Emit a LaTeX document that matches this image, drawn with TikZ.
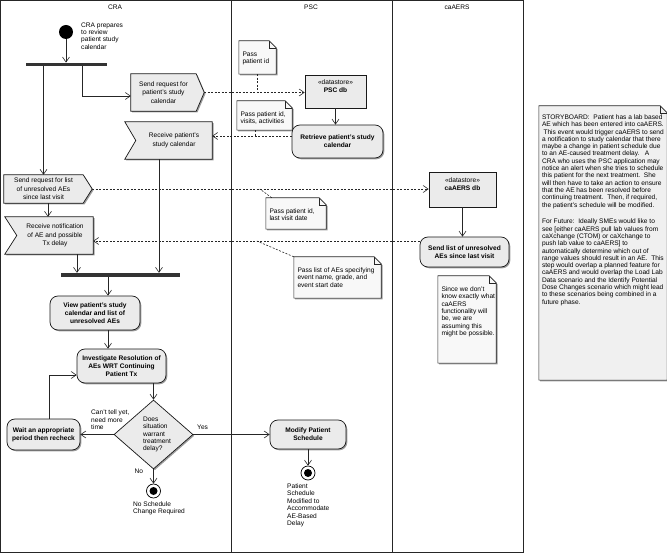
\documentclass[tikz,border=0pt]{standalone}
\usepackage{fontspec}
\setmainfont{Liberation Sans}
\usetikzlibrary{arrows.meta,shapes.geometric,shadows}
\pgfdeclarelayer{back}
\pgfsetlayers{back,main}
\definecolor{nodefill}{HTML}{EBEBEB}
\definecolor{notefill}{HTML}{F8F8F8}
\definecolor{sbfill}{HTML}{F0F0F0}
\tikzset{
 shd/.style={drop shadow={shadow xshift=1.3pt, shadow yshift=-1.3pt, opacity=0.55, fill=black!70}},
 lane/.style={draw=black!85, line width=0.8pt},
 ttl/.style={font=\fontsize{6.6}{7.4}\selectfont, inner sep=0pt},
 lbl/.style={font=\fontsize{6.6}{7.4}\selectfont, inner sep=0pt, align=left},
 act/.style={draw=black!90, line width=0.7pt, fill=nodefill, rounded corners=8pt, align=center, font=\bfseries\fontsize{6.6}{8.1}\selectfont, inner sep=0pt, shd},
 store/.style={draw=black!90, line width=0.7pt, fill=nodefill, inner sep=0pt, shd},
 sigtxt/.style={align=center, font=\fontsize{6.6}{8.5}\selectfont, inner sep=0pt},
 sigsh/.style={draw=black!90, line width=0.7pt, fill=nodefill, shd},
 notesh/.style={draw=black!85, line width=0.6pt, shd},
 bar/.style={fill=black!80, draw=none, inner sep=0pt},
 arr/.style={draw=black!85, line width=0.6pt, -{Straight Barb[length=5pt,width=7pt]}},
 dsh/.style={draw=black!85, line width=0.6pt, dash pattern=on 2pt off 1.5pt},
 darr/.style={dsh, -{Straight Barb[length=5pt,width=7pt]}},
 finalnode/.style={circle, draw=black, line width=0.7pt, fill=white, minimum size=14pt, inner sep=0pt,
   path picture={\fill[black] (path picture bounding box.center) circle (4pt);}},
}
% name, cx, cy, w, h, fill, text style, text
\newcommand\mknote[8]{%
 \node[minimum width=#4pt, minimum height=#5pt, inner sep=0pt] (#1) at (#2,#3) {};
 \begin{pgfonlayer}{back}
 \filldraw[notesh, fill=#6] (#1.north west) -- ([xshift=-7pt]#1.north east) -- ([yshift=-7pt]#1.north east) -- (#1.south east) -- (#1.south west) -- cycle;
 \draw[line width=0.5pt, draw=black!85] ([xshift=-7pt]#1.north east) |- ([yshift=-7pt]#1.north east);
 \end{pgfonlayer}
 \node[lbl, anchor=north west, #7] (#1t) at ([xshift=3.5pt,yshift=-10.5pt]#1.north west) {#8};
}
\begin{document}
\begin{tikzpicture}[x=1pt,y=-1pt]
\useasboundingbox (0,0) rectangle (667,553);
% lanes
\draw[lane] (0.5,0.5) rectangle (523,552.5);
\draw[lane] (231,0.5) -- (231,552.5);
\draw[lane] (392,0.5) -- (392,552.5);
\node[ttl] (tcra) at (115,7.5) {CRA};
\node[ttl] (tpsc) at (311,7.5) {PSC};
\node[ttl] (tcaers) at (457,7.5) {caAERS};

% CRA lane nodes
\node[circle, fill=black, minimum size=14pt, inner sep=0pt] (start) at (66,32) {};
\node[lbl, anchor=west] (startl) at (81,36) {CRA prepares\\to review\\patient study\\calendar};
\node[bar, minimum width=81pt, minimum height=3.5pt] (fork1) at (66.5,64.5) {};

\node[sigtxt, minimum width=65pt, minimum height=37pt] (send1) at (163.5,92.5) {Send request for\\patient's study\\calendar};
\node[sigtxt, minimum width=76pt, minimum height=37pt] (recv1) at (174,140.5) {Receive patient's\\study calendar};
\node[sigtxt, minimum width=79pt, minimum height=28pt] (send2) at (43.5,189) {Send request for list\\of unresolved AEs\\since last visit};
\node[sigtxt, minimum width=76pt, minimum height=37pt] (recv2) at (55,235.5) {Receive notification\\of AE and possible\\Tx delay};
\begin{pgfonlayer}{back}
\filldraw[sigsh] (send1.north west) -- (send1.north east) -- ([xshift=8pt]send1.east) -- (send1.south east) -- (send1.south west) -- cycle;
\filldraw[sigsh] ([xshift=-11pt]recv1.north west) -- (recv1.north east) -- (recv1.south east) -- ([xshift=-11pt]recv1.south west) -- (recv1.west) -- cycle;
\filldraw[sigsh] (send2.north west) -- (send2.north east) -- ([xshift=9pt]send2.east) -- (send2.south east) -- (send2.south west) -- cycle;
\filldraw[sigsh] ([xshift=-12pt]recv2.north west) -- (recv2.north east) -- (recv2.south east) -- ([xshift=-12pt]recv2.south west) -- (recv2.west) -- cycle;
\end{pgfonlayer}

\node[bar, minimum width=119pt, minimum height=4pt] (fork2) at (120.5,275) {};
\node[act, minimum width=90pt, minimum height=34pt] (view) at (95,313) {View patient's study\\calendar and list of\\unresolved AEs};
\node[act, minimum width=89pt, minimum height=34pt] (inv) at (121.5,366) {Investigate Resolution of\\AEs WRT Continuing\\Patient Tx};
\node[diamond, draw=black!90, line width=0.7pt, fill=nodefill, minimum width=79pt, minimum height=69pt, inner sep=0pt, shd] (dec) at (153.5,434.5) {};
\node[lbl] (dect) at ([xshift=3.5pt]dec.center) {Does\\situation\\warrant\\treatment\\delay?};
\node[act, minimum width=73pt, minimum height=31pt] (wait) at (43.5,434.5) {Wait an appropriate\\period then recheck};
\node[lbl, anchor=west] (cant) at (91,420) {Can't tell yet,\\need more\\time};
\node[lbl, anchor=west] (yes) at (197,427.5) {Yes};
\node[lbl, anchor=west] (no) at (134.5,471.5) {No};
\node[finalnode] (fin1) at (153.5,491) {};
\node[lbl, anchor=west] (fin1l) at (133,508) {No Schedule\\Change Required};

% PSC lane
\node[store, minimum width=61pt, minimum height=33pt] (psc) at (335.5,91.5) {};
\node[sigtxt, font=\fontsize{6.6}{7.7}\selectfont] (psct) at ([yshift=5.5pt]psc.center) {«datastore»\\\textbf{PSC db}};
\node[act, minimum width=91pt, minimum height=33pt] (retr) at (337.5,141.5) {Retrieve patient's study\\calendar};
\mknote{note1}{257.5}{57.5}{37}{33}{notefill}{}{Pass\\patient id}
\mknote{note2}{264.5}{115.5}{55}{29}{notefill}{}{Pass patient id,\\visits, activities}
\mknote{note3}{296}{213.5}{60}{31}{notefill}{}{Pass patient id,\\last visit date}
\mknote{note4}{337.5}{277.5}{87}{41}{notefill}{}{Pass list of AEs specifying\\event name, grade, and\\event start date}
\node[act, minimum width=76pt, minimum height=29pt] (mod) at (308,434.5) {Modify Patient\\Schedule};
\node[finalnode] (fin2) at (308,473) {};
\node[lbl, font=\fontsize{6.6}{7.5}\selectfont, anchor=west] (fin2l) at (287,505.5) {Patient\\Schedule\\Modified to\\Accommodate\\AE-Based\\Delay};

% caAERS lane
\node[store, minimum width=67pt, minimum height=35pt] (cdb) at (462.5,189.5) {};
\node[sigtxt, font=\fontsize{6.6}{7.3}\selectfont] (cdbt) at ([yshift=5.5pt]cdb.center) {«datastore»\\\textbf{caAERS db}};
\node[act, minimum width=89pt, minimum height=30pt] (sendl) at (464.5,252) {Send list of unresolved\\AEs since last visit};
\mknote{note5}{467}{319.5}{58}{87}{notefill}{}{Since we don't\\know exactly what\\caAERS\\functionality will\\be, we are\\assuming this\\might be possible.}

% storyboard
\mknote{sb}{603}{243}{128}{274}{sbfill}{font=\fontsize{6.6}{7.3}\selectfont, yshift=1.8pt, xshift=-0.5pt}{STORYBOARD:\ \ Patient has a lab based\\AE which has been entered into caAERS.\\\hspace*{1.5pt}This event would trigger caAERS to send\\a notification to study calendar that there\\maybe a change in patient schedule due\\to an AE-caused treatment delay.\ \ \ A\\CRA who uses the PSC application may\\notice an alert when she tries to schedule\\this patient for the next treatment.\ \ She\\will then have to take an action to ensure\\that the AE has been resolved before\\continuing treatment.\ \ Then, if required,\\the patient's schedule will be modified.\\[9.5pt]For Future:\ \ Ideally SMEs would like to\\see [either caAERS pull lab values from\\caXchange (CTOM) or caXchange to\\push lab value to caAERS] to\\automatically determine which out of\\range values should result in an AE.\ \ This\\step would overlap a planned feature for\\caAERS and would overlap the Load Lab\\Data scenario and the Identify Potential\\Dose Changes scenario which might lead\\to these scenarios being combined in a\\future phase.}

% connectors
\draw[arr] (start.south) -- (start.south |- fork1.north);
\draw[arr] ([xshift=15.5pt]fork1.south) |- ([yshift=-3.5pt]send1.west);
\draw[arr] (send2.north |- fork1.south) -- (send2.north);
\draw[darr] ([xshift=8pt]send1.east) -- (psc.west |- send1.east);
\draw[dsh] (note1.south) -- (note1.south |- send1.east);
\draw[arr] (psc.south) -- (psc.south |- retr.north);
\coordinate (r1) at ([yshift=5.5pt]retr.west);
\draw[darr] (r1) -- (recv1.east |- r1);
\coordinate (n2b) at ([xshift=-9.5pt]note2.south);
\draw[dsh] (n2b) -- (n2b |- r1);
\coordinate (r1b) at ([xshift=-15pt]recv1.south);
\draw[arr] (r1b) -- (r1b |- fork2.north);
\draw[darr] ([xshift=9pt]send2.east) -- (cdb.west |- send2.east);
\coordinate (n3a) at ([xshift=6pt]note3.north west);
\coordinate (n3b) at ([xshift=-6pt]note3.north west);
\draw[dsh] (n3a) -- (n3b |- send2.east);
\draw[arr] (cdb.south) -- (cdb.south |- sendl.north);
\coordinate (s2) at ([yshift=11pt]sendl.west);
\draw[darr] (s2) -- (recv2.east |- s2);
\coordinate (n4a) at ([xshift=-37pt]note4.north west);
\draw[dsh] (note4.north west) -- (n4a |- s2);
\coordinate (s2b) at ([xshift=4.5pt]send2.south);
\draw[arr] (s2b) -- (s2b |- recv2.north);
\coordinate (r2b) at ([xshift=22pt]recv2.south);
\draw[arr] (r2b) -- (r2b |- fork2.north);
\coordinate (vt) at ([xshift=13pt]view.north);
\draw[arr] (vt |- fork2.south) -- (vt);
\coordinate (vb) at ([xshift=13pt]view.south);
\draw[arr] (vb) -- (vb |- inv.north);
\draw[arr] (dec.north |- inv.south) -- (dec.north);
\draw[arr] (dec.west) -- (wait.east);
\coordinate (wt) at ([xshift=5.5pt]wait.north);
\coordinate (il) at ([yshift=-9pt]inv.west);
\draw[arr] (wt) |- (il);
\draw[arr] (dec.south) -- (fin1.north);
\draw[arr] (dec.east) -- (mod.west);
\draw[arr] (mod.south) -- (fin2.north);
\end{tikzpicture}
\end{document}
